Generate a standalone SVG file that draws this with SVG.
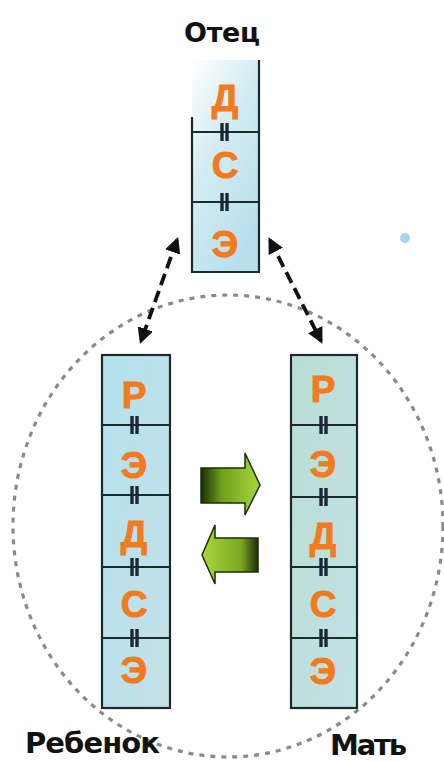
<svg xmlns="http://www.w3.org/2000/svg" width="444" height="762" viewBox="0 0 444 762">
<style>
.lbl{font-family:"DejaVu Sans",sans-serif;font-weight:bold;fill:#111;}
.let{font-family:"Liberation Sans",Arial,sans-serif;font-weight:bold;fill:#f47a20;font-size:37px;text-anchor:middle;stroke:#f47a20;stroke-width:1;}
.cell{stroke:#1c2a2a;stroke-width:2.2;}
.bond{stroke:#1a2836;stroke-width:3.4;}
.dash{stroke:#111;stroke-width:3.8;stroke-dasharray:12 6;fill:none;}
</style>
<defs>
<linearGradient id="cf" x1="0" y1="0" x2="1" y2="1">
<stop offset="0" stop-color="#b4e2ee"/><stop offset="1" stop-color="#c4e0e6"/>
</linearGradient>
<linearGradient id="mf" x1="0" y1="0" x2="1" y2="1">
<stop offset="0" stop-color="#b8ddd6"/><stop offset="1" stop-color="#c2e2e4"/>
</linearGradient>
<linearGradient id="ff" x1="0" y1="0" x2="0.6" y2="1">
<stop offset="0" stop-color="#ffffff"/><stop offset="0.45" stop-color="#d4ecf2"/><stop offset="1" stop-color="#b8e0ec"/>
</linearGradient>
<linearGradient id="gr" x1="0" y1="0" x2="1" y2="0">
<stop offset="0" stop-color="#1a2e08"/><stop offset="0.35" stop-color="#6f9e1c"/><stop offset="1" stop-color="#a8d83a"/>
</linearGradient>
<linearGradient id="gl" x1="1" y1="0" x2="0" y2="0">
<stop offset="0" stop-color="#1a2e08"/><stop offset="0.3" stop-color="#7aa822"/><stop offset="1" stop-color="#a8d83a"/>
</linearGradient>
<marker id="ah" viewBox="0 0 10 10" refX="8" refY="5" markerWidth="4.2" markerHeight="4.2" orient="auto-start-reverse">
<path d="M0,0 L10,5 L0,10 z" fill="#111"/>
</marker>
</defs>

<ellipse cx="228" cy="526" rx="215" ry="231" fill="none" stroke="#8a8a8a" stroke-width="3.2" stroke-dasharray="5 6"/>

<circle cx="405" cy="238" r="5" fill="#a9d4ec"/>

<g id="connectors">
<line class="dash" x1="177" y1="240" x2="141" y2="341" marker-start="url(#ah)" marker-end="url(#ah)"/>
<line class="dash" x1="270" y1="240" x2="321" y2="341" marker-start="url(#ah)" marker-end="url(#ah)"/>
</g>

<g id="father">
<rect x="192" y="60" width="67" height="212" fill="url(#ff)"/>
<path class="cell" fill="none" d="M259,60 V272 H192 V117"/>
<line class="cell" x1="192" y1="132" x2="259" y2="132"/>
<line class="cell" x1="192" y1="202" x2="259" y2="202"/>
<g class="bond">
<line x1="222" y1="123" x2="222" y2="141"/><line x1="227" y1="123" x2="227" y2="141"/>
<line x1="222" y1="193" x2="222" y2="211"/><line x1="227" y1="193" x2="227" y2="211"/>
</g>
<text class="let" x="225" y="111">Д</text>
<text class="let" x="225" y="178">С</text>
<text class="let" x="225" y="257">Э</text>
<text class="lbl" x="184" y="42" font-size="27" textLength="76">Отец</text>
</g>

<g id="child">
<rect class="cell" x="102" y="355" width="68" height="353" fill="url(#cf)"/>
<line class="cell" x1="102" y1="425" x2="170" y2="425"/>
<line class="cell" x1="102" y1="495" x2="170" y2="495"/>
<line class="cell" x1="102" y1="567" x2="170" y2="567"/>
<line class="cell" x1="102" y1="638" x2="170" y2="638"/>
<g class="bond">
<line x1="132" y1="416" x2="132" y2="434"/><line x1="137" y1="416" x2="137" y2="434"/>
<line x1="132" y1="486" x2="132" y2="504"/><line x1="137" y1="486" x2="137" y2="504"/>
<line x1="132" y1="558" x2="132" y2="576"/><line x1="137" y1="558" x2="137" y2="576"/>
<line x1="132" y1="629" x2="132" y2="647"/><line x1="137" y1="629" x2="137" y2="647"/>
</g>
<text class="let" x="134" y="408">Р</text>
<text class="let" x="134" y="478">Э</text>
<text class="let" x="134" y="547">Д</text>
<text class="let" x="134" y="617">С</text>
<text class="let" x="134" y="683">Э</text>
<text class="lbl" x="25" y="753" font-size="29" textLength="135">Ребенок</text>
</g>

<g id="mother">
<rect class="cell" x="291" y="355" width="66" height="353" fill="url(#mf)"/>
<line class="cell" x1="291" y1="425" x2="357" y2="425"/>
<line class="cell" x1="291" y1="497" x2="357" y2="497"/>
<line class="cell" x1="291" y1="567" x2="357" y2="567"/>
<line class="cell" x1="291" y1="638" x2="357" y2="638"/>
<g class="bond">
<line x1="321" y1="416" x2="321" y2="434"/><line x1="326" y1="416" x2="326" y2="434"/>
<line x1="321" y1="488" x2="321" y2="506"/><line x1="326" y1="488" x2="326" y2="506"/>
<line x1="321" y1="558" x2="321" y2="576"/><line x1="326" y1="558" x2="326" y2="576"/>
<line x1="321" y1="629" x2="321" y2="647"/><line x1="326" y1="629" x2="326" y2="647"/>
</g>
<text class="let" x="323" y="402">Р</text>
<text class="let" x="323" y="477">Э</text>
<text class="let" x="323" y="549">Д</text>
<text class="let" x="323" y="617">С</text>
<text class="let" x="323" y="684">Э</text>
<text class="lbl" x="330" y="755" font-size="29" textLength="77">Мать</text>
</g>

<g id="arrow-right">
<path d="M201,468 H245 V453 L260,485 L245,515 V503 H201 Z" fill="url(#gr)" stroke="#1a2e08" stroke-width="1.5"/>
</g>
<g id="arrow-left">
<path d="M258,538 H215 V525 L202,555 L215,584 V572 H258 Z" fill="url(#gl)" stroke="#1a2e08" stroke-width="1.5"/>
</g>
</svg>
